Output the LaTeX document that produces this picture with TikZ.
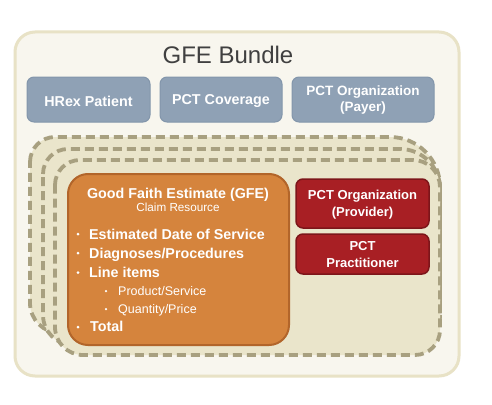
\documentclass[tikz,border=0pt]{standalone}
\usepackage{fontspec}
\setmainfont{Liberation Sans}
\definecolor{outerfill}{HTML}{F8F6EE}
\definecolor{outerline}{HTML}{E8E2C6}
\definecolor{dashfill}{HTML}{EAE5CB}
\definecolor{dashline}{HTML}{A8A080}
\definecolor{bluefill}{HTML}{8FA1B5}
\definecolor{blueline}{HTML}{8396AB}
\definecolor{orangefill}{HTML}{D5843D}
\definecolor{orangeline}{HTML}{B2652A}
\definecolor{redfill}{HTML}{A81F24}
\definecolor{redline}{HTML}{7D151A}
\definecolor{titlegray}{HTML}{404040}
\newcommand\dshape[8]{%
  \path[dashbox] (#1,#2+#5) arc[start angle=180,end angle=270,radius=#5]
    -- (#3-#6,#2) arc[start angle=270,end angle=360,radius=#6]
    -- (#3,#4-#7) arc[start angle=0,end angle=90,radius=#7]
    -- (#1+#8,#4) arc[start angle=90,end angle=180,radius=#8] -- cycle;}
\begin{document}
\begin{tikzpicture}[x=1pt,y=-1pt,
  bluebox/.style={draw=blueline,fill=bluefill,line width=1pt,rounded corners=7pt},
  bluetext/.style={text=white,font=\fontsize{14.3}{16}\selectfont\bfseries,align=center},
  redbox/.style={draw=redline,fill=redfill,line width=1.5pt,rounded corners=7pt},
  redtext/.style={text=white,font=\fontsize{13}{16.5}\selectfont\bfseries,align=center},
  dashbox/.style={draw=dashline,fill=dashfill,line width=3.8pt,dash pattern=on 9pt off 5pt},
  item/.style={anchor=base west,text=white,font=\fontsize{14.3}{16}\selectfont\bfseries,inner sep=0pt},
  subitem/.style={anchor=base west,text=white,font=\fontsize{12.5}{14}\selectfont,inner sep=0pt},
  dot/.style={circle,fill=white,inner sep=0pt,minimum size=3pt}]
\useasboundingbox (0,0) rectangle (492,404);
\fill[white] (0,0) rectangle (492,404);
\draw[draw=outerline,fill=outerfill,line width=3pt,rounded corners=20pt] (15,32) rectangle (459,376);
\node[text=titlegray,font=\fontsize{24}{26}\selectfont] (title) at (228,55) {GFE Bundle};
\path[bluebox] (27,77) rectangle (150,122);
\node[bluetext] (pat) at (88.5,101) {HRex Patient};
\path[bluebox] (160,77) rectangle (282,122);
\node[bluetext] (cov) at (221,101) {PCT Coverage};
\path[bluebox] (292,77) rectangle (434,122);
\node[bluetext,font=\fontsize{13.5}{16}\selectfont\bfseries] (payer) at (363,100.5) {PCT Organization\\(Payer)};
\dshape{30}{137}{440}{333}{25}{50}{30}{30}
\dshape{43}{149}{440}{345}{25}{40}{30}{30}
\dshape{55}{160}{440}{355}{25}{27}{25}{28}
\path[draw=orangeline,fill=orangefill,line width=2pt,rounded corners=20pt] (68,174) rectangle (289,345);
\node[anchor=base,inner sep=0pt,text=white,font=\fontsize{14.3}{16}\selectfont\bfseries] (gfe) at (178,198.3) {Good Faith Estimate (GFE)};
\node[anchor=base,inner sep=0pt,text=white,font=\fontsize{11.7}{13}\selectfont] (claim) at (178,211) {Claim Resource};
\node[dot] (d1) at (78,234) {};
\node[item] (i1) at (89,239.3) {Estimated Date of Service};
\node[dot] (d2) at (78,253) {};
\node[item] (i2) at (89,258) {Diagnoses/Procedures};
\node[dot] (d3) at (78,272.5) {};
\node[item] (i3) at (89,277.5) {Line items};
\node[dot,minimum size=2.5pt] (d4) at (106,291) {};
\node[subitem] (i4) at (118,295.3) {Product/Service};
\node[dot,minimum size=2.5pt] (d5) at (106,309) {};
\node[subitem] (i5) at (118,313.3) {Quantity/Price};
\node[dot] (d6) at (78,327) {};
\node[item] (i6) at (90,331.8) {Total};
\path[redbox] (296,179) rectangle (429,228);
\node[redtext] (prov) at (362.5,204.5) {PCT Organization\\(Provider)};
\path[redbox] (296,234) rectangle (429,274);
\node[redtext] (prac) at (362.5,254.5) {PCT\\Practitioner};
\end{tikzpicture}
\end{document}
